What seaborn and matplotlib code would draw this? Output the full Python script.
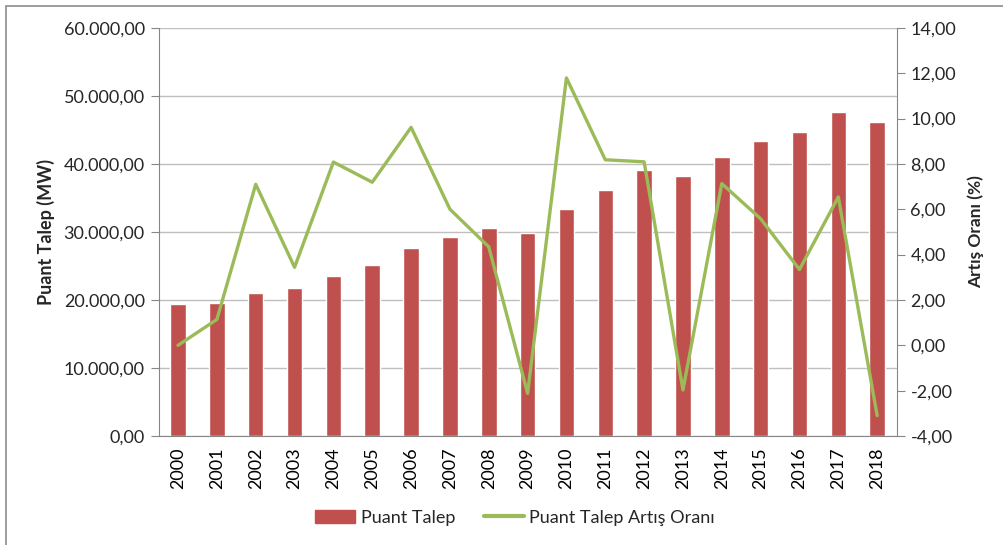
import numpy as np
import pandas as pd
import matplotlib
matplotlib.use("Agg")
import matplotlib.pyplot as plt
from matplotlib.ticker import FuncFormatter, FixedLocator
from matplotlib.patches import Patch, Rectangle
from matplotlib.lines import Line2D
import seaborn as sns

# veriler
years = [str(y) for y in range(2000, 2019)]
puant_talep = [19390, 19612, 21006, 21729, 23485, 25174, 27594, 29249, 30517, 29870,
               33392, 36122, 39045, 38274, 41003, 43289, 44734, 47660, 46180]
artis_orani = [0.00, 1.14, 7.10, 3.44, 8.08, 7.19, 9.61, 6.00, 4.34, -2.12,
               11.79, 8.18, 8.09, -1.97, 7.13, 5.58, 3.34, 6.54, -3.10]

bar_color = "#C0504D"
line_color = "#9BBB59"
grid_color = "#BFBFBF"
spine_color = "#868686"

sns.set_style("white")
plt.rcParams["font.family"] = ["Lato", "DejaVu Sans"]


def tr_fmt(v, pos=None):
    s = f"{v:,.2f}"
    return s.replace(",", "X").replace(".", ",").replace("X", ".")


df = pd.DataFrame({"yil": years, "talep": puant_talep, "oran": artis_orani})

fig = plt.figure(figsize=(10.04, 5.45), dpi=100)
ax = fig.add_axes([0.158, 0.2, 0.735, 0.749])

sns.barplot(data=df, x="yil", y="talep", color=bar_color, width=0.4,
            saturation=1, ax=ax, zorder=2)
ax.set_ylim(0, 60000)
ax.set_xlim(-0.5, len(years) - 0.5)
ax.set_yticks(np.arange(0, 60001, 10000))
ax.yaxis.set_major_formatter(FuncFormatter(tr_fmt))
ax.grid(axis="y", color=grid_color, linewidth=1, zorder=0)
ax.set_axisbelow(True)

# x eksenindeki tikler kategoriler arasinda
ax.set_xticks(range(len(years)))
ax.set_xticklabels(years, rotation=90, fontsize=13, color="#000000")
ax.xaxis.set_minor_locator(FixedLocator(np.arange(-0.5, len(years), 1)))
ax.tick_params(axis="x", which="major", length=0, pad=8)
ax.tick_params(axis="x", which="minor", length=6, color=spine_color, direction="out")
ax.tick_params(axis="y", length=6, color=spine_color, direction="out", labelsize=13, pad=4)
ax.set_xlabel("")
ax.set_ylabel("Puant Talep (MW)", fontsize=13, fontweight="bold", labelpad=6)

for s in ["left", "bottom"]:
    ax.spines[s].set_color(spine_color)
ax.spines["top"].set_visible(False)
ax.spines["right"].set_visible(False)

ax2 = ax.twinx()
sns.lineplot(x=np.arange(len(years)), y=artis_orani, color=line_color,
             linewidth=2.4, ax=ax2, zorder=3)
ax2.set_ylim(-4, 14)
ax2.set_yticks(np.arange(-4, 14.1, 2))
ax2.yaxis.set_major_formatter(FuncFormatter(tr_fmt))
ax2.tick_params(axis="y", length=6, color=spine_color, direction="out", labelsize=13, pad=4)
ax2.set_ylabel("Artış Oranı (%)", fontsize=12.5, fontweight="bold", labelpad=8)
ax2.spines["right"].set_color(spine_color)
for s in ["top", "left", "bottom"]:
    ax2.spines[s].set_visible(False)
ax2.grid(False)

handles = [Patch(color=bar_color, label="Puant Talep"),
           Line2D([0], [0], color=line_color, linewidth=3, label="Puant Talep Artış Oranı")]
fig.legend(handles=handles, loc="center", bbox_to_anchor=(0.513, 0.05), ncol=2,
           frameon=False, fontsize=13, handlelength=2.2, handletextpad=0.3,
           columnspacing=1.6)

# dis cerceve
fig.patches.append(Rectangle((0.006, -0.05), 1.1, 1.039, transform=fig.transFigure,
                             fill=False, edgecolor="#8C8C8C", linewidth=1.2))

fig.savefig("out.png", dpi=100)
